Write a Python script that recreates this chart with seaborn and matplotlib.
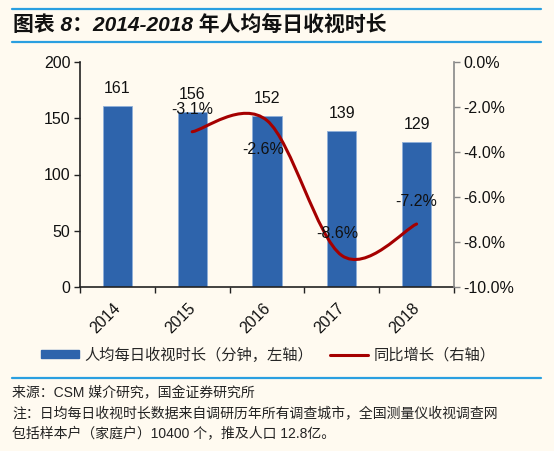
import numpy as np
import pandas as pd
import matplotlib
matplotlib.use("Agg")
import matplotlib.pyplot as plt
import matplotlib.transforms as mtransforms
from matplotlib.path import Path
from matplotlib.patches import PathPatch, Patch
from matplotlib.lines import Line2D
from matplotlib.ticker import FixedLocator, FuncFormatter
import seaborn as sns

years = ["2014", "2015", "2016", "2017", "2018"]
minutes = [161, 156, 152, 139, 129]
growth_years = ["2015", "2016", "2017", "2018"]
growth = [-3.1, -2.6, -8.6, -7.2]

title = "图表 8：2014-2018 年人均每日收视时长"
legend_bar = "人均每日收视时长（分钟，左轴）"
legend_line = "同比增长（右轴）"
source = "来源：CSM 媒介研究，国金证券研究所"
note1 = "注：日均每日收视时长数据来自调研历年所有调查城市，全国测量仪收视调查网"
note2 = "包括样本户（家庭户）10400 个，推及人口 12.8亿。"

BG = "#FFFAF0"
BAR = "#2E64AC"
LINE = "#A50000"
BLUE_RULE = "#2A9FE0"
FS = 11.5

sns.set_theme(style="white")
plt.rcParams["font.family"] = ["Liberation Sans", "Noto Sans CJK SC", "DejaVu Sans"]

fig = plt.figure(figsize=(5.54, 4.51), dpi=100, facecolor=BG)
W, H = 554, 451
ax = fig.add_axes([80 / W, 1 - 287 / H, (454 - 80) / W, (287 - 62) / H])
ax.set_facecolor(BG)

df = pd.DataFrame({"year": years, "minutes": minutes})
sns.barplot(data=df, x="year", y="minutes", color=BAR, width=0.39,
            saturation=1, ax=ax, edgecolor="#8FB0DA", linewidth=0.6)
ax.set_xlim(-0.5, len(years) - 0.5)
ax.set_ylim(0, 200)
ax.set_yticks([0, 50, 100, 150, 200])
ax.set_xlabel("")
ax.set_ylabel("")
for c in ax.containers:
    ax.bar_label(c, labels=[str(v) for v in minutes], padding=7, fontsize=FS, color="#111111")

# x ticks at boundaries
ax.xaxis.set_minor_locator(FixedLocator(np.arange(-0.5, len(years), 1.0)))
ax.tick_params(axis="x", which="major", length=0, pad=10, labelsize=FS, colors="#111111")
ax.tick_params(axis="x", which="minor", length=4, width=1, color="#222222", direction="out", bottom=True)
ax.tick_params(axis="y", which="major", length=4, width=1, color="#222222", direction="out", left=True,
               labelsize=FS, labelcolor="#111111", pad=3)
offset = mtransforms.ScaledTranslation(6 / 100, 0, fig.dpi_scale_trans)
for lab in ax.get_xticklabels():
    lab.set_rotation(45)
    lab.set_ha("right")
    lab.set_va("top")
    lab.set_transform(lab.get_transform() + offset)

for s in ["top", "right"]:
    ax.spines[s].set_visible(False)
ax.spines["left"].set_color("#222222")
ax.spines["bottom"].set_color("#222222")
ax.spines["left"].set_linewidth(1.2)
ax.spines["bottom"].set_linewidth(1.2)

ax2 = ax.twinx()
ax2.set_ylim(-10, 0)
ax2.set_yticks([-10, -8, -6, -4, -2, 0])
ax2.yaxis.set_major_formatter(FuncFormatter(lambda v, p: f"{v:.1f}%"))
ax2.tick_params(axis="y", length=4, width=1, color="#888888", direction="out", right=True,
                labelsize=FS, labelcolor="#111111", pad=3)
for s in ["top", "left", "bottom"]:
    ax2.spines[s].set_visible(False)
ax2.spines["right"].set_color("#888888")
ax2.spines["right"].set_linewidth(1.2)
ax2.grid(False)
ax.grid(False)

# smoothed line (Catmull-Rom style Bezier through data points)
xs = np.array([years.index(y) for y in growth_years], dtype=float)
ys = np.array(growth, dtype=float)
pts = np.column_stack([xs, ys])
verts = [tuple(pts[0])]
codes = [Path.MOVETO]
n = len(pts)
for i in range(n - 1):
    p0 = pts[i - 1] if i > 0 else pts[i]
    p1 = pts[i]
    p2 = pts[i + 1]
    p3 = pts[i + 2] if i + 2 < n else pts[i + 1]
    c1 = p1 + (p2 - p0) / 6.0
    c2 = p2 - (p3 - p1) / 6.0
    verts += [tuple(c1), tuple(c2), tuple(p2)]
    codes += [Path.CURVE4] * 3
ax2.add_patch(PathPatch(Path(verts, codes), facecolor="none", edgecolor=LINE, lw=2.2,
                        capstyle="round", zorder=5))

# line labels (offsets in points)
lab_off = [(0, 16), (-3, -21), (-3, 16), (0, 16)]
for x, y, (dx, dy) in zip(xs, ys, lab_off):
    ax2.annotate(f"{y:.1f}%", (x, y), xytext=(dx, dy), textcoords="offset points",
                 ha="center", va="center", fontsize=FS, color="#111111", zorder=6)

# legend
handles = [Patch(facecolor=BAR, edgecolor=BAR), Line2D([0], [0], color=LINE, lw=2.2)]
fig.legend(handles, [legend_bar, legend_line], loc="center", bbox_to_anchor=(268 / W, 1 - 355 / H),
           ncol=2, frameon=False, fontsize=11, handlelength=2.5, handleheight=0.45,
           columnspacing=1.1, handletextpad=0.35)

# title and rules
fig.add_artist(Line2D([12 / W, 541 / W], [1 - 9 / H, 1 - 9 / H], color=BLUE_RULE, lw=1.6))
fig.add_artist(Line2D([12 / W, 541 / W], [1 - 42 / H, 1 - 42 / H], color=BLUE_RULE, lw=1.6))
fig.text(13 / W, 1 - 25 / H, title, fontsize=15, fontweight="bold", fontstyle="italic",
         ha="left", va="center", color="#111111")
fig.add_artist(Line2D([12 / W, 541 / W], [1 - 378 / H, 1 - 378 / H], color=BLUE_RULE, lw=1.6))
fig.text(12 / W, 1 - 393 / H, source, fontsize=10, ha="left", va="center", color="#222222")
fig.text(12 / W, 1 - 413 / H, note1, fontsize=10, ha="left", va="center", color="#222222")
fig.text(12 / W, 1 - 433 / H, note2, fontsize=10, ha="left", va="center", color="#222222")

fig.savefig("out.png", dpi=100, facecolor=BG)
